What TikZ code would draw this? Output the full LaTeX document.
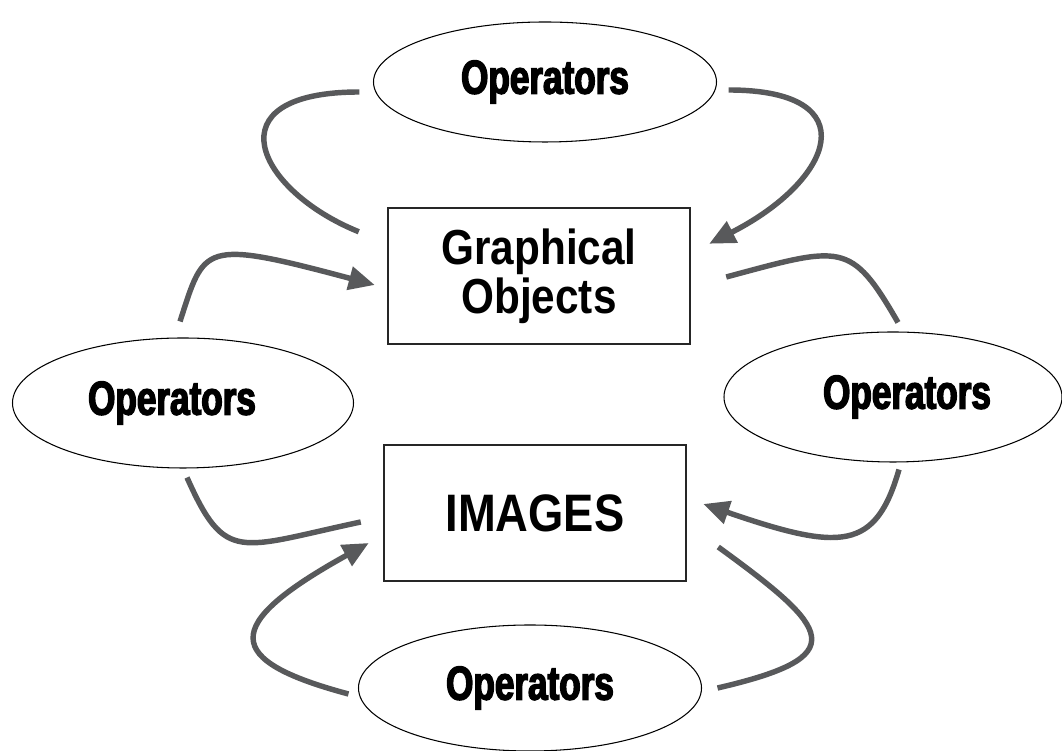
\documentclass[tikz,border=0pt]{standalone}
\usepackage{fontspec}
\usetikzlibrary{arrows.meta,shapes.geometric}
\newfontfamily\opsfont{Liberation Sans}[FakeStretch=0.74,FakeBold=3]
\newfontfamily\boxfont{Liberation Sans}[FakeStretch=0.86]
\definecolor{myGray}{RGB}{88,89,91}
\tikzset{
	opsnode/.style={
		draw,
		ellipse,
		line width=0.6pt,
		inner sep=0pt,
		minimum width=6.86cm,
		minimum height=2.5cm,
		font=\opsfont\bfseries\fontsize{27}{27}\selectfont
	},
	objbox/.style={
		draw=black!85,
		line width=1.4pt,
		inner sep=0pt,
		align=center,
		minimum width=6.04cm,
		minimum height=2.72cm,
		font=\boxfont\bfseries\fontsize{28}{28}\selectfont
	},
	farr/.style={-{Triangle[length=0.52cm,width=0.46cm]}, line width=3.1pt, myGray},
	fline/.style={line width=3.1pt, myGray}
}

\begin{document}
\begin{tikzpicture}[x=1cm, y=1cm]
	\useasboundingbox (0,0) rectangle (21.24,15.02);
	% operators round the two levels
	\node[opsnode, minimum height=2.4cm] (opsTop) at (10.9,13.38) {Operators};
	\node[opsnode, minimum width=6.82cm, minimum height=2.6cm] (opsLeft) at (3.66,6.96)
		{\hspace*{-0.44cm}Operators};
	\node[opsnode, minimum width=6.76cm, minimum height=2.6cm] (opsRight) at (17.86,7.08)
		{\hspace*{0.56cm}\raisebox{-0.12cm}{Operators}};
	\node[opsnode, minimum height=2.52cm] (opsBottom) at (10.6,1.26) {Operators};
	% the two levels
	\node[objbox] (graph) at (10.78,9.5) {Graphical\\Objects};
	\node[objbox, font=\boxfont\bfseries\fontsize{30}{30}\selectfont] (images) at (10.7,4.76) {IMAGES};
	% loop over the graphical objects
	\draw[fline] ([shift={(-0.56,-0.5)}]graph.north west)
		.. controls +(158:2.2) and +(180:3.0) .. ([shift={(-0.27,-0.2)}]opsTop.west);
	\draw[farr] ([shift={(0.23,-0.16)}]opsTop.east)
		.. controls +(0:2.8) and +(27:2.8) .. ([shift={(0.36,-0.74)}]graph.north east);
	% images up to graphical objects
	\draw[fline] ([shift={(-0.44,-0.18)}]images.west)
		.. controls +(192:2.5) and +(294:1.9) .. ([shift={(0.08,-0.18)}]opsLeft.south);
	\draw[farr] ([shift={(-0.06,0.32)}]opsLeft.north)
		.. controls +(72:1.6) and +(165:3.6) .. ([shift={(-0.24,-0.18)}]graph.west);
	% graphical objects down to images
	\draw[fline] ([shift={(0.7,-0.02)}]graph.east)
		.. controls +(15:2.4) and +(120:1.9) .. ([shift={(0.1,0.18)}]opsRight.north);
	\draw[farr] ([shift={(0.12,-0.14)}]opsRight.south)
		.. controls +(254:1.7) and +(341:2.9) .. ([shift={(0.32,0.18)}]images.east);
	% loop over the images
	\draw[fline] ([shift={(0.62,-0.68)}]images.east)
		.. controls +(324:2.8) and +(13:2.8) .. ([shift={(0.31,0)}]opsBottom.east);
	\draw[farr] ([shift={(-0.19,-0.12)}]opsBottom.west)
		.. controls +(165:2.6) and +(209:3.4) .. ([shift={(-0.28,-0.6)}]images.west);
\end{tikzpicture}
\end{document}
